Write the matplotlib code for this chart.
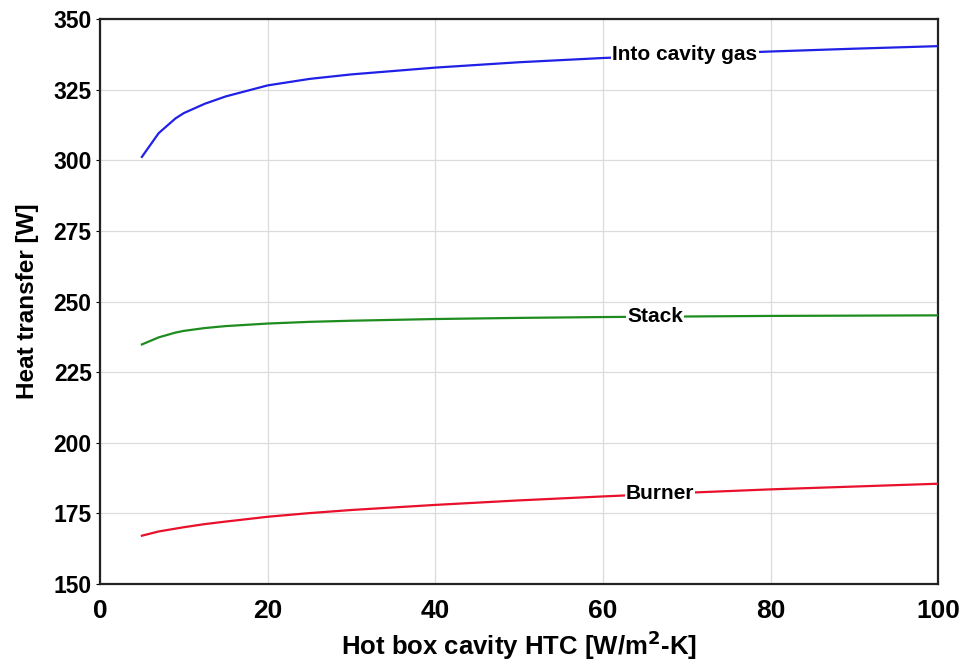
import numpy as np
import matplotlib
matplotlib.use('Agg')
import matplotlib.pyplot as plt

# ---------- data ----------
htc = [5, 7, 9, 10, 12.5, 15, 20, 25, 30, 40, 50, 60, 70, 80, 90, 100]
q_cavity = [301.2, 309.6, 314.8, 316.7, 320.0, 322.6, 326.5, 328.8, 330.4,
            332.8, 334.7, 336.2, 337.4, 338.5, 339.5, 340.4]
q_stack = [234.8, 237.3, 239.0, 239.6, 240.6, 241.3, 242.2, 242.8, 243.2,
           243.8, 244.2, 244.5, 244.7, 244.9, 245.0, 245.1]
q_burner = [167.1, 168.6, 169.6, 170.1, 171.2, 172.1, 173.8, 175.1, 176.2,
            178.0, 179.6, 181.0, 182.3, 183.5, 184.5, 185.5]

series = [
    ("Into cavity gas", q_cavity, '#2020e6', 69.8),
    ("Stack", q_stack, '#1e8c1e', 66.2),
    ("Burner", q_burner, '#e8102a', 66.8),
]

xticks = [0, 20, 40, 60, 80, 100]
yticks = [150, 175, 200, 225, 250, 275, 300, 325, 350]

font = ['Liberation Sans', 'DejaVu Sans']

# ---------- plotting ----------
fig = plt.figure(figsize=(9.69, 6.65), dpi=100)
ax = fig.add_axes([0.1032, 0.1218, 0.8650, 0.8496])

for name, vals, col, xl in series:
    ax.plot(htc, vals, color=col, lw=1.6, zorder=3)
    yl = np.interp(xl, htc, vals)
    ax.text(xl, yl, name, ha='center', va='center', fontsize=15,
            fontweight='bold', family=font, zorder=4,
            bbox=dict(facecolor='white', edgecolor='none', pad=0.8))

ax.set_xlim(0, 100)
ax.set_ylim(150, 350)
ax.set_xticks(xticks)
ax.set_yticks(yticks)
ax.grid(True, color='#dcdcdc', lw=0.9)
ax.set_axisbelow(True)

for s in ax.spines.values():
    s.set_linewidth(1.6)
    s.set_color('#222222')

ax.tick_params(axis='x', length=0, pad=11)
ax.tick_params(axis='y', length=3, pad=3)
for lab in ax.get_xticklabels():
    lab.set_fontfamily(font)
    lab.set_fontsize(19)
    lab.set_fontweight('bold')
for lab in ax.get_yticklabels():
    lab.set_fontfamily(font)
    lab.set_fontsize(16.5)
    lab.set_fontweight('bold')

ax.set_xlabel('Hot box cavity HTC [W/m$^{\\mathbf{2}}$-K]', fontsize=18.5,
              fontweight='bold', family=font, labelpad=4)
ax.set_ylabel('Heat transfer [W]', fontsize=17.5, fontweight='bold',
              family=font, labelpad=10)

fig.savefig('out.png', dpi=100)
